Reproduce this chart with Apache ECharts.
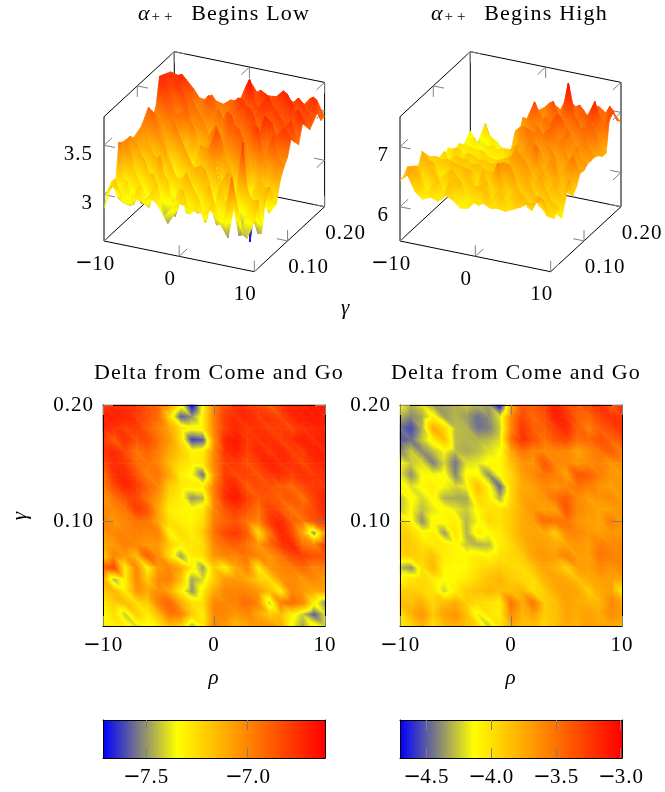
<!DOCTYPE html>
<html><head><meta charset="utf-8">
<style>html,body{margin:0;padding:0;background:#fff}#c{width:665px;height:792px}</style>
<script src="https://cdn.jsdelivr.net/npm/echarts@6/dist/echarts.min.js"></script>
</head><body><div id="c"></div>
<script>
const rhos=[-10,-9,-8,-7,-6,-5,-4,-3,-2,-1,0,1,2,3,4,5,6,7,8,9,10];
const gammas=[.20,.19,.18,.17,.16,.15,.14,.13,.12,.11,.10,.09,.08,.07,.06,.05,.04,.03,.02,.01];
const surfaceLow=[
[3.54,3.52,3.46,3.38,3.37,3.43,3.29,3.26,3.32,3.48,3.66,3.55,3.54,3.54,3.55,3.53,3.53,3.50,3.59,3.59,3.44],
[3.62,3.60,3.58,3.50,3.40,3.34,3.42,3.40,3.46,3.34,3.62,3.50,3.62,3.52,3.58,3.66,3.52,3.62,3.55,3.66,3.44],
[3.64,3.62,3.66,3.54,3.34,3.44,3.50,3.30,3.38,3.50,3.44,3.75,3.48,3.64,3.50,3.58,3.68,3.50,3.62,3.50,3.55],
[3.66,3.58,3.64,3.50,3.46,3.30,3.54,3.42,3.20,3.42,3.58,3.44,3.60,3.46,3.66,3.50,3.58,3.66,3.48,3.60,3.50],
[3.68,3.60,3.46,3.58,3.42,3.42,3.30,3.36,3.46,3.30,3.44,3.62,3.42,3.56,3.64,3.60,3.42,3.58,3.60,3.50,3.45],
[3.40,3.56,3.50,3.34,3.50,3.32,3.40,3.18,3.32,3.42,3.30,3.48,3.60,3.44,3.56,3.42,3.62,3.48,3.42,3.66,3.55],
[3.32,3.34,3.50,3.40,3.44,3.42,3.22,3.36,3.14,3.24,3.54,3.36,3.46,3.62,3.38,3.56,3.42,3.60,3.50,3.40,3.58],
[3.47,3.40,3.28,3.42,3.30,3.12,3.36,3.10,3.30,3.14,3.34,3.56,3.30,3.46,3.60,3.34,3.58,3.42,3.54,3.62,3.40],
[3.40,3.48,3.34,3.22,3.40,3.22,3.06,3.03,3.20,3.40,3.24,3.44,3.50,3.30,3.50,3.42,3.66,3.60,3.36,3.50,3.46],
[3.34,3.30,3.40,3.24,3.08,3.34,3.16,3.04,3.28,3.14,3.50,3.26,3.40,3.52,3.26,3.58,3.50,3.30,3.52,3.62,3.54],
[3.32,3.28,3.10,3.30,3.18,3.00,3.30,3.10,2.98,3.30,3.10,3.46,3.20,3.38,3.48,3.24,3.62,3.32,3.56,3.30,3.38],
[3.30,3.10,3.26,3.00,3.30,3.08,2.96,3.26,3.04,2.94,3.34,3.54,3.30,3.12,3.42,3.26,3.10,3.44,3.22,3.44,3.31],
[3.35,3.28,2.98,3.22,2.90,3.20,3.00,2.84,3.22,3.04,2.92,3.30,3.00,3.26,2.96,3.30,2.53,3.16,2.94,3.20,3.21],
[3.35,3.06,3.22,2.88,3.22,2.94,3.18,3.02,2.82,3.20,3.24,2.90,3.26,2.94,3.22,2.86,2.88,3.10,3.20,2.90,3.01],
[3.36,3.29,2.86,3.20,2.92,3.29,2.84,3.10,3.12,2.88,3.10,3.24,2.88,3.14,3.26,2.96,3.60,2.86,3.10,3.18,3.12],
[3.39,2.94,3.14,2.82,3.14,2.94,3.16,2.84,3.06,3.22,2.86,3.10,3.18,2.86,3.06,3.20,2.84,3.20,2.88,3.06,3.25],
[2.95,3.06,2.86,3.10,2.86,3.18,2.92,3.14,2.80,3.06,3.18,2.88,3.12,2.92,3.20,2.86,3.10,2.82,3.14,2.80,3.15],
[3.06,2.90,3.10,2.88,3.08,2.88,3.14,2.86,2.92,3.12,2.90,3.14,2.94,3.22,2.84,3.08,3.16,2.78,3.00,3.16,2.85],
[3.01,3.14,2.92,2.90,3.10,2.94,3.10,2.96,2.80,2.92,3.16,2.94,3.12,2.88,3.14,2.90,2.78,3.20,2.84,2.90,3.22],
[2.86,3.10,3.07,2.98,3.02,3.01,3.07,3.02,2.90,3.00,3.06,3.05,3.03,3.01,3.07,3.00,3.01,3.44,2.98,2.85,3.05]];
const surfaceHigh=[
[6.18,6.01,6.36,5.99,6.01,5.99,6.05,6.29,6.62,6.75,6.84,6.92,6.84,7.05,6.94,6.88,6.82,7.03,6.94,6.96,6.84],
[6.10,6.00,6.10,6.24,6.16,5.98,5.96,6.34,6.62,6.78,6.60,6.98,6.70,7.05,6.80,7.05,6.75,7.02,6.82,7.13,6.92],
[6.03,6.20,6.10,5.94,6.26,6.12,6.00,6.20,6.72,6.60,6.88,6.72,7.09,6.80,7.45,6.85,7.05,6.80,7.05,6.85,7.13],
[6.03,6.00,6.26,6.16,5.94,6.02,6.22,6.14,6.42,6.78,7.09,6.82,6.72,6.98,6.82,7.05,6.80,7.02,7.30,6.80,7.15],
[6.01,6.14,6.04,5.98,6.24,6.30,6.00,6.08,6.62,6.50,6.88,6.65,6.95,6.75,7.00,6.78,7.02,6.82,7.02,6.75,6.55],
[6.05,6.28,6.26,6.00,6.06,6.20,6.30,6.34,6.36,6.75,6.60,6.85,6.70,6.92,7.09,6.95,6.75,6.92,6.98,6.95,6.55],
[6.24,6.04,6.10,6.32,6.30,6.02,6.12,6.08,6.36,6.48,6.85,6.62,6.90,6.68,6.98,6.65,6.92,6.70,6.90,6.65,6.62],
[6.15,6.30,6.34,6.06,6.12,6.38,6.28,6.06,6.18,6.52,6.62,6.90,6.84,6.85,6.98,6.78,6.90,6.74,6.75,6.80,6.66],
[6.15,6.18,6.40,6.30,6.10,6.08,6.36,6.34,6.12,6.14,6.65,6.62,6.85,6.58,6.82,6.60,6.80,6.60,6.82,6.55,6.66],
[6.20,6.38,6.10,6.16,6.42,6.40,6.10,6.14,6.40,6.46,6.55,6.55,6.78,6.82,6.58,6.78,6.55,6.78,6.55,6.72,6.66],
[6.26,6.12,6.28,6.44,6.14,6.20,6.42,6.44,6.12,6.16,6.52,6.72,6.50,6.70,6.80,6.52,6.76,6.50,6.70,6.50,6.60],
[6.38,6.40,6.14,6.18,6.46,6.44,6.14,6.22,6.46,6.48,6.30,6.66,6.72,6.48,6.92,6.50,6.72,6.50,6.66,6.88,6.62],
[6.48,6.20,6.44,6.46,6.16,6.18,6.46,6.48,6.16,6.20,6.60,6.40,6.62,6.72,6.45,6.68,6.48,6.78,6.46,6.64,6.45],
[6.58,6.44,6.18,6.20,6.50,6.48,6.20,6.20,6.50,6.46,6.22,6.67,6.42,6.58,6.68,6.46,6.65,6.42,6.60,6.40,6.35],
[6.40,6.52,6.50,6.24,6.20,6.22,6.52,6.50,6.22,6.24,6.55,6.70,6.72,6.42,6.60,6.40,6.62,6.38,6.58,6.36,6.67],
[6.45,6.28,6.50,6.22,6.42,6.52,6.24,6.52,6.22,6.57,6.28,6.78,6.32,6.67,6.34,6.60,6.30,6.58,6.28,6.50,6.40],
[6.50,6.50,6.22,6.50,6.20,6.42,6.50,6.24,6.46,6.22,6.50,6.28,6.56,6.30,6.55,6.32,6.54,6.28,6.52,6.22,6.15],
[6.55,6.58,6.30,6.22,6.48,6.22,6.46,6.50,6.24,6.44,6.50,6.26,6.48,6.28,6.46,6.50,6.28,6.50,6.30,6.48,6.40],
[6.45,6.62,6.52,6.22,6.42,6.20,6.48,6.26,6.20,6.26,6.22,6.50,6.28,6.48,6.26,6.48,6.52,6.32,6.58,6.28,6.26],
[6.44,6.55,6.30,6.20,6.26,6.22,6.34,6.29,6.18,6.20,6.34,6.34,6.28,6.30,6.28,6.34,6.40,6.49,6.52,6.59,6.34]];
const deltaLow=[
[-6.78,-6.75,-6.75,-6.78,-6.85,-6.92,-7.05,-7.3,-7.71,-7.32,-7.0,-6.85,-6.75,-6.78,-6.82,-6.9,-6.78,-6.72,-6.72,-6.7,-6.68],
[-6.72,-6.7,-6.72,-6.78,-6.85,-6.92,-7.25,-7.58,-7.5,-7.3,-6.98,-6.78,-6.75,-6.72,-6.78,-6.76,-6.82,-6.72,-6.7,-6.68,-6.7],
[-6.72,-6.75,-6.8,-6.78,-6.88,-6.98,-7.1,-7.25,-7.33,-7.3,-7.0,-6.8,-6.72,-6.78,-6.75,-6.8,-6.78,-6.82,-6.75,-6.72,-6.72],
[-6.8,-6.88,-6.75,-6.85,-6.82,-6.95,-7.05,-7.25,-7.62,-7.58,-7.05,-6.72,-6.68,-6.78,-6.76,-6.74,-6.8,-6.75,-6.7,-6.75,-6.7],
[-6.78,-6.72,-6.82,-6.95,-6.9,-6.98,-7.1,-7.2,-7.32,-7.3,-7.0,-6.75,-6.7,-6.8,-6.72,-6.78,-6.72,-6.8,-6.78,-6.7,-6.72],
[-6.85,-6.75,-6.78,-6.92,-6.95,-7.0,-7.15,-7.25,-7.3,-7.28,-7.0,-6.8,-6.78,-6.85,-6.78,-6.7,-6.75,-6.75,-6.82,-6.74,-6.72],
[-6.95,-6.75,-6.72,-6.85,-6.98,-6.95,-7.1,-7.3,-7.35,-7.55,-7.05,-6.78,-6.82,-6.8,-6.85,-6.78,-6.74,-6.8,-6.75,-6.78,-6.74],
[-6.98,-6.82,-6.72,-6.78,-6.9,-7.0,-7.2,-7.28,-7.3,-7.3,-6.98,-6.76,-6.72,-6.88,-6.82,-6.85,-6.88,-6.92,-6.82,-6.78,-6.78],
[-7.05,-6.95,-6.85,-6.82,-6.95,-7.05,-7.25,-7.3,-7.5,-7.45,-7.0,-6.75,-6.68,-6.8,-6.88,-6.85,-6.9,-6.85,-6.95,-6.8,-6.72],
[-7.0,-7.0,-6.95,-6.78,-6.85,-7.1,-7.3,-7.32,-7.33,-7.28,-7.0,-6.85,-6.78,-6.85,-6.95,-6.8,-6.85,-6.95,-6.88,-6.82,-6.72],
[-6.98,-7.05,-7.0,-6.95,-6.95,-7.1,-7.25,-7.3,-7.32,-7.25,-6.98,-6.9,-6.85,-6.95,-7.0,-6.78,-6.72,-6.88,-6.95,-6.85,-6.78],
[-7.05,-7.0,-7.0,-6.98,-7.0,-7.0,-7.32,-7.25,-7.3,-7.2,-6.95,-6.82,-6.78,-6.88,-7.25,-6.95,-6.72,-6.82,-7.1,-7.5,-7.05],
[-7.1,-7.05,-6.98,-7.0,-7.05,-7.05,-7.2,-7.3,-7.28,-7.25,-7.0,-6.92,-6.88,-6.95,-7.05,-6.92,-6.78,-6.72,-6.95,-7.0,-6.8],
[-7.2,-7.0,-7.05,-7.15,-6.88,-7.02,-7.25,-7.48,-7.3,-7.25,-7.05,-7.0,-7.0,-6.95,-7.0,-7.05,-6.95,-6.82,-6.8,-6.85,-6.85],
[-6.88,-6.82,-7.3,-7.0,-7.3,-7.05,-7.0,-7.1,-7.3,-7.48,-7.2,-7.3,-7.1,-7.0,-7.28,-7.05,-7.0,-6.98,-6.92,-7.0,-6.98],
[-7.1,-7.45,-7.3,-7.0,-7.2,-7.0,-6.98,-7.15,-7.48,-7.4,-7.2,-7.05,-7.05,-7.1,-7.2,-7.25,-7.05,-7.0,-7.05,-7.0,-7.05],
[-7.2,-7.15,-7.3,-7.05,-7.1,-7.02,-7.1,-7.3,-7.5,-7.3,-7.1,-7.0,-7.0,-7.0,-7.05,-7.15,-7.3,-7.0,-7.05,-7.1,-7.1],
[-7.3,-7.2,-7.15,-7.25,-7.2,-6.98,-6.9,-7.1,-7.25,-7.25,-7.0,-7.0,-6.98,-6.92,-7.0,-7.42,-6.98,-6.92,-7.0,-7.3,-7.5],
[-7.35,-7.25,-7.42,-7.2,-7.3,-7.15,-6.95,-6.98,-7.2,-7.3,-7.0,-7.0,-7.05,-7.0,-7.1,-7.2,-7.15,-7.3,-7.42,-7.58,-7.4],
[-7.3,-7.3,-7.3,-7.4,-7.35,-7.3,-7.15,-7.2,-7.45,-7.3,-7.0,-7.05,-7.15,-7.1,-7.05,-7.05,-7.1,-7.35,-7.48,-7.3,-7.4]];
const deltaHigh=[
[-4.13,-4.3,-4.2,-4.35,-4.35,-4.3,-4.25,-4.3,-4.35,-4.68,-3.75,-3.35,-3.4,-3.3,-3.12,-3.3,-3.4,-3.3,-3.18,-3.4,-3.15],
[-4.3,-4.4,-4.32,-4.08,-4.35,-4.3,-4.35,-4.45,-4.38,-4.2,-3.6,-3.3,-3.45,-3.35,-3.1,-3.2,-3.4,-3.45,-3.3,-3.2,-3.25],
[-4.45,-4.55,-4.3,-3.75,-3.95,-4.28,-4.3,-4.45,-4.42,-4.25,-3.6,-3.22,-3.4,-3.42,-3.25,-3.15,-3.4,-3.55,-3.4,-3.3,-3.2],
[-4.5,-4.45,-4.25,-4.05,-3.85,-4.28,-4.3,-4.3,-4.28,-4.2,-3.5,-3.2,-3.35,-3.5,-3.35,-3.3,-3.5,-3.45,-3.35,-3.45,-3.35],
[-4.4,-4.25,-4.4,-4.28,-4.15,-4.28,-4.32,-4.28,-4.2,-4.13,-3.75,-3.5,-3.6,-3.6,-3.6,-3.6,-3.72,-3.6,-3.5,-3.4,-3.55],
[-4.13,-4.25,-4.2,-4.42,-4.22,-4.45,-4.2,-4.18,-4.1,-4.1,-3.85,-3.65,-3.65,-3.35,-3.6,-3.6,-3.65,-3.6,-3.55,-3.65,-3.6],
[-4.18,-4.38,-4.13,-4.15,-4.1,-4.4,-4.1,-4.1,-4.38,-4.1,-3.95,-3.7,-3.6,-3.5,-3.55,-3.7,-3.35,-3.4,-3.55,-3.65,-3.7],
[-4.05,-4.2,-4.1,-4.05,-4.15,-4.22,-4.15,-3.85,-4.1,-4.48,-3.95,-3.75,-3.7,-3.6,-3.65,-3.6,-3.5,-3.55,-3.65,-3.7,-3.65],
[-4.28,-4.1,-4.22,-4.1,-4.3,-4.32,-4.32,-3.95,-4.05,-4.3,-3.95,-3.72,-3.7,-3.65,-3.5,-3.4,-3.6,-3.7,-3.65,-3.6,-3.7],
[-4.25,-4.13,-4.28,-4.18,-4.1,-4.18,-4.25,-4.1,-4.0,-4.0,-3.9,-3.75,-3.65,-3.7,-3.7,-3.35,-3.6,-3.65,-3.72,-3.7,-3.65],
[-3.95,-4.1,-4.38,-4.1,-4.1,-4.05,-4.3,-4.15,-3.95,-4.0,-3.9,-3.75,-3.7,-3.45,-3.5,-3.5,-3.65,-3.7,-3.72,-3.55,-3.65],
[-3.9,-3.95,-4.1,-4.05,-4.35,-4.0,-4.3,-4.05,-4.12,-4.05,-3.9,-3.75,-3.72,-3.75,-3.9,-3.6,-3.6,-3.65,-3.7,-3.65,-3.7],
[-3.9,-3.9,-4.0,-4.05,-4.05,-4.1,-4.25,-4.3,-4.28,-4.05,-3.95,-3.8,-3.7,-3.7,-3.75,-3.72,-3.65,-3.7,-3.55,-3.6,-3.6],
[-3.95,-3.9,-3.95,-3.85,-4.05,-4.1,-4.1,-4.05,-4.1,-4.0,-3.95,-3.9,-3.72,-3.65,-3.7,-3.55,-3.7,-3.7,-3.5,-3.55,-3.6],
[-4.28,-4.38,-4.0,-3.8,-4.1,-4.12,-4.1,-4.0,-3.95,-3.9,-3.95,-3.98,-3.85,-3.72,-3.78,-3.92,-3.7,-3.7,-3.6,-3.65,-3.6],
[-4.1,-4.0,-3.95,-4.05,-4.13,-4.1,-4.05,-3.95,-3.85,-3.8,-3.9,-3.95,-3.98,-3.8,-3.72,-3.75,-3.85,-3.75,-3.7,-3.7,-3.72],
[-3.9,-3.9,-3.95,-4.0,-4.22,-4.05,-3.9,-3.85,-3.8,-3.85,-3.85,-3.8,-3.98,-3.9,-3.75,-3.7,-3.72,-3.9,-3.75,-3.7,-4.05],
[-3.85,-3.85,-3.78,-3.95,-3.82,-3.75,-3.9,-3.95,-4.0,-4.05,-3.5,-3.75,-3.5,-3.9,-3.85,-3.7,-3.75,-3.8,-3.8,-3.6,-3.7],
[-4.0,-3.78,-3.65,-3.9,-3.7,-3.65,-3.85,-4.18,-4.0,-4.05,-3.6,-3.8,-3.7,-3.9,-3.85,-3.72,-3.75,-3.7,-3.75,-3.6,-3.7],
[-4.05,-3.95,-3.78,-4.0,-3.82,-3.78,-3.85,-3.95,-4.25,-4.0,-3.75,-3.85,-3.85,-3.95,-3.85,-3.75,-3.8,-3.7,-3.75,-3.75,-3.8]];

const rhoTicks=[-10,0,10];
const gammaTicks=[.10,.20];
const zTicksLow=[3,3.5];
const zTicksHigh=[6,7];
const zRangeLow=[2.53,3.79];
const zRangeHigh=[5.43,7.50];
const deltaRangeLow=[-7.71,-6.62];
const deltaRangeHigh=[-4.70,-2.99];
const barTicksLow=[-7.5,-7.0];
const barTicksHigh=[-4.5,-4.0,-3.5,-3.0];
const titles=['Begins Low','Begins High','Delta from Come and Go'];

/* Computer Modern sets wider than the installed serif: widen the tracking per font size */
const plainFillText=CanvasRenderingContext2D.prototype.fillText;
CanvasRenderingContext2D.prototype.fillText=function(){
  const f=this.font;
  this.letterSpacing=/\b22px/.test(f)?'1.2px':/\b15px/.test(f)?'4px':/\b21px/.test(f)?'1px':'0px';
  return plainFillText.apply(this,arguments);
};

const FONT='"Liberation Serif","DejaVu Serif",serif';
const LABEL=21, TICK='#808080', INK='#000';
const minusRich={m:{fontFamily:'"DejaVu Sans"',fontSize:LABEL,color:INK}};
const fmtMinus=(s)=>String(s).replace('-','{m|\u2212}');
const lin=echarts.number.linearMap;

function mix(a,b,f){return a.map((v,i)=>Math.round(v+(b[i]-v)*f));}
function col(t){
  t=Math.max(0,Math.min(1,t));
  const c=t<1/3?mix([0,0,255],[255,255,0],t*3):mix([255,255,0],[255,0,0],(t-1/3)*1.5);
  return 'rgb('+c.join(',')+')';
}
function shade(a,b,c){
  const det=(b[0]-a[0])*(c[1]-a[1])-(c[0]-a[0])*(b[1]-a[1]);
  const vs=[a,b,c].slice().sort((p,q)=>p[2]-q[2]);
  const lo=vs[0][2],hi=vs[2][2];
  if(Math.abs(det)<1e-6||hi-lo<1e-4)return col((a[2]+b[2]+c[2])/3);
  const gx=((b[2]-a[2])*(c[1]-a[1])-(c[2]-a[2])*(b[1]-a[1]))/det;
  const gy=((c[2]-a[2])*(b[0]-a[0])-(b[2]-a[2])*(c[0]-a[0]))/det;
  const n=gx*gx+gy*gy,d=hi-lo;
  const x1=vs[0][0]+gx*d/n,y1=vs[0][1]+gy*d/n;
  const stops=[{offset:0,color:col(lo)}];
  if(lo<1/3&&hi>1/3)stops.push({offset:(1/3-lo)/d,color:col(1/3)});
  stops.push({offset:1,color:col(hi)});
  return new echarts.graphic.LinearGradient(vs[0][0],vs[0][1],x1,y1,stops,true);
}
function tri(a,b,c){
  const f=shade(a,b,c);
  return {type:'polygon',shape:{points:[[a[0],a[1]],[b[0],b[1]],[c[0],c[1]]]},style:{fill:f,stroke:f,lineWidth:.7}};
}
function cells(m){
  const out=[];
  m.forEach((row,j)=>row.forEach((v,i)=>out.push([rhos[i],gammas[j],v,i,j])));
  return out;
}

const panels3D=[
 {ax:104,ay:241,bx:254.3,by:271.7,dx:70.3,dy:-65,h:124.3,z:zRangeLow,m:surfaceLow,zt:zTicksLow},
 {ax:400,ay:241,bx:550.7,by:271.7,dx:70.3,dy:-65,h:124.3,z:zRangeHigh,m:surfaceHigh,zt:zTicksHigh}
];
const heat=[{l:103,m:deltaLow,r:deltaRangeLow},{l:400,m:deltaHigh,r:deltaRangeHigh}];
const bars=[{l:103,r:deltaRangeLow,t:barTicksLow},{l:400,r:deltaRangeHigh,t:barTicksHigh}];

const grid=[],xAxis=[],yAxis=[],series=[];
function addGrid(g){grid.push(Object.assign({containLabel:false},g));return grid.length-1;}
function hiddenAxis(o){return Object.assign({type:'value',show:false,scale:true},o);}

panels3D.forEach((p)=>{
  const g=addGrid({left:p.ax,top:p.ay-p.h,width:p.bx-p.ax,height:p.h});
  const xi=xAxis.push(hiddenAxis({gridIndex:g,min:-10,max:10}))-1;
  const yi=yAxis.push(hiddenAxis({gridIndex:g,min:p.z[0],max:p.z[1]}))-1;
  const proj=(api,r,ga,z)=>{
    const c=api.coord([r,z]);
    const v=lin(ga,[.01,.20],[0,1]), u=lin(r,[-10,10],[0,1]);
    return [c[0]+v*p.dx, c[1]+u*(p.by-p.ay)+v*p.dy];
  };
  const [z0,z1]=p.z;
  const seg=(a,b,st)=>({type:'line',shape:{x1:a[0],y1:a[1],x2:b[0],y2:b[1]},style:st});
  const boxStyle={stroke:'#000',lineWidth:1,fill:null}, tickStyle={stroke:TICK,lineWidth:1,fill:null};
  const txt=(s,x,y,align)=>({type:'text',style:{text:s,x:x,y:y,align:align,verticalAlign:'middle',fill:INK,font:LABEL+'px '+FONT,rich:minusRich}});
  series.push({type:'custom',coordinateSystem:'cartesian2d',xAxisIndex:xi,yAxisIndex:yi,silent:true,animation:false,z:2,
    data:[[0]],encode:{x:0},
    renderItem:(ps,api)=>{
      const e=[];
      const P=(r,ga,z)=>proj(api,r,ga,z);
      const L=(a,b)=>e.push(seg(a,b,boxStyle));
      L(P(-10,.01,z0),P(10,.01,z0));L(P(10,.01,z0),P(10,.20,z0));
      L(P(-10,.01,z0),P(-10,.20,z0));L(P(-10,.20,z0),P(10,.20,z0));
      L(P(-10,.01,z0),P(-10,.01,z1));L(P(-10,.20,z0),P(-10,.20,z1));L(P(10,.20,z0),P(10,.20,z1));
      L(P(-10,.01,z1),P(-10,.20,z1));L(P(-10,.20,z1),P(10,.20,z1));
      const tk=(a,b)=>{const d=Math.hypot(b[0]-a[0],b[1]-a[1]);e.push(seg(a,[a[0]+(b[0]-a[0])/d*11,a[1]+(b[1]-a[1])/d*11],tickStyle));};
      rhoTicks.forEach(r=>{
        const a=P(r,.01,z0);tk(a,P(r,.20,z0));tk(a,P(r,.01,z1));
        const b=P(r,.20,z1);tk(b,P(r,.01,z1));tk(b,P(r,.20,z0));
      });
      gammaTicks.forEach(ga=>{
        const a=P(10,ga,z0);tk(a,P(-10,ga,z0));tk(a,P(10,ga,z1));
        const b=P(-10,ga,z1);tk(b,P(10,ga,z1));tk(b,P(-10,ga,z0));
      });
      p.zt.forEach(z=>{
        const a=P(-10,.01,z);tk(a,P(10,.01,z));tk(a,P(-10,.20,z));
        const b=P(10,.20,z);tk(b,P(-10,.20,z));tk(b,P(10,.01,z));
      });
      rhoTicks.forEach(r=>{const a=P(r,.01,z0);e.push(txt(fmtMinus(r),a[0]-9,a[1]+23,'center'));});
      gammaTicks.forEach(ga=>{const a=P(10,ga,z0);e.push(txt(ga.toFixed(2),a[0]+21,a[1]+27,'center'));});
      p.zt.forEach(z=>{const a=P(-10,.01,z);e.push(txt(String(z),a[0]-11,a[1]+9,'right'));});
      return {type:'group',children:e};
    }});
  const span=z1-z0;
  series.push({type:'custom',coordinateSystem:'cartesian2d',xAxisIndex:xi,yAxisIndex:yi,silent:true,animation:false,z:3,progressive:0,
    data:cells(p.m),dimensions:['rho','gamma','value','i','j'],encode:{x:0,y:2},
    renderItem:(ps,api)=>{
      const i=api.value(3),j=api.value(4);
      if(i>=20||j>=19)return null;
      const n=(a,b)=>{const q=proj(api,rhos[a],gammas[b],p.m[b][a]);return [q[0],q[1],(p.m[b][a]-z0)/span];};
      const A=n(i,j),B=n(i+1,j),C=n(i,j+1),D=n(i+1,j+1);
      return {type:'group',children:[tri(A,C,D),tri(A,B,D)]};
    }});
});

heat.forEach((h,k)=>{
  const g=addGrid({left:h.l,top:405,width:222,height:221});
  const axisLine={show:true,onZero:false,lineStyle:{color:'#000',width:1}};
  const axisTick={show:true,inside:true,length:10,lineStyle:{color:TICK,width:1}};
  const xi=xAxis.push({type:'value',gridIndex:g,position:'bottom',min:-10,max:10,interval:10,z:10,splitLine:{show:false},axisLine,axisTick,
    axisLabel:{show:true,margin:9,fontFamily:FONT,fontSize:LABEL,color:INK,showMinLabel:true,showMaxLabel:true,formatter:fmtMinus,rich:minusRich},
    name:'\u03c1',nameLocation:'middle',nameGap:42,nameTextStyle:{fontFamily:FONT,fontStyle:'italic',fontSize:LABEL,color:INK}})-1;
  xAxis.push({type:'value',gridIndex:g,position:'top',min:-10,max:10,interval:10,z:10,splitLine:{show:false},axisLine,axisTick,axisLabel:{show:false}});
  const yi=yAxis.push({type:'value',gridIndex:g,position:'left',min:.01,max:.20,z:10,splitLine:{show:false},axisLine,
    axisTick:Object.assign({customValues:gammaTicks},axisTick),
    axisLabel:{show:true,margin:9,customValues:gammaTicks,fontFamily:FONT,fontSize:LABEL,color:INK,formatter:v=>v.toFixed(2)},
    name:k===0?'\u03b3':'',nameLocation:'middle',nameGap:72,nameRotate:90,nameTextStyle:{fontFamily:FONT,fontStyle:'italic',fontSize:LABEL,color:INK}})-1;
  yAxis.push({type:'value',gridIndex:g,position:'right',min:.01,max:.20,z:10,splitLine:{show:false},axisLine,
    axisTick:Object.assign({customValues:gammaTicks},axisTick),axisLabel:{show:false}});
  const [lo,hi]=h.r;
  series.push({type:'custom',coordinateSystem:'cartesian2d',xAxisIndex:xi,yAxisIndex:yi,silent:true,animation:false,z:3,progressive:0,
    data:cells(h.m),dimensions:['rho','gamma','value','i','j'],encode:{x:0,y:1},
    renderItem:(ps,api)=>{
      const i=api.value(3),j=api.value(4);
      if(i>=20||j>=19)return null;
      const n=(a,b)=>{const q=api.coord([rhos[a],gammas[b]]);return [q[0],q[1],(h.m[b][a]-lo)/(hi-lo)];};
      const A=n(i,j),B=n(i+1,j),C=n(i,j+1),D=n(i+1,j+1);
      return {type:'group',children:[tri(A,C,D),tri(A,B,D)]};
    }});
});

bars.forEach((b)=>{
  const g=addGrid({left:b.l,top:720,width:222,height:38});
  const axisLine={show:true,onZero:false,lineStyle:{color:'#000',width:1}};
  const axisTick={show:true,inside:true,length:10,customValues:b.t,lineStyle:{color:TICK,width:1}};
  const xi=xAxis.push({type:'value',gridIndex:g,position:'bottom',min:b.r[0],max:b.r[1],z:10,splitLine:{show:false},axisLine,axisTick,
    axisLabel:{show:true,margin:9,customValues:b.t,fontFamily:FONT,fontSize:LABEL,color:INK,formatter:v=>fmtMinus(v.toFixed(1)),rich:minusRich}})-1;
  xAxis.push({type:'value',gridIndex:g,position:'top',min:b.r[0],max:b.r[1],z:10,splitLine:{show:false},axisLine,axisTick,axisLabel:{show:false}});
  const yi=yAxis.push({type:'value',gridIndex:g,min:0,max:1,z:10,position:'left',splitLine:{show:false},axisLine,axisTick:{show:false},axisLabel:{show:false}})-1;
  yAxis.push({type:'value',gridIndex:g,min:0,max:1,z:10,position:'right',splitLine:{show:false},axisLine,axisTick:{show:false},axisLabel:{show:false}});
  series.push({type:'custom',coordinateSystem:'cartesian2d',xAxisIndex:xi,yAxisIndex:yi,silent:true,animation:false,z:3,
    data:[[b.r[0],b.r[1]]],encode:{x:[0,1]},
    renderItem:(ps,api)=>{
      const a=api.coord([api.value(0),1]),c=api.coord([api.value(1),0]);
      const f=new echarts.graphic.LinearGradient(a[0],0,c[0],0,[{offset:0,color:col(0)},{offset:1/3,color:col(1/3)},{offset:1,color:col(1)}],true);
      return {type:'rect',shape:{x:a[0],y:a[1],width:c[0]-a[0],height:c[1]-a[1]},style:{fill:f}};
    }});
});

const TS=22;
const richA={a:{fontFamily:FONT,fontStyle:'italic',fontSize:TS,color:INK,padding:[0,2,0,0]},
  s:{fontFamily:FONT,fontSize:15,color:INK,verticalAlign:'bottom',padding:[5,16,0,0]},
  t:{fontFamily:FONT,fontSize:TS,color:INK}};
const mkTitle=(text,x,y,align)=>({text:text,left:x,top:y,textAlign:align,textStyle:{fontFamily:FONT,fontSize:TS,fontWeight:'normal',color:INK,rich:richA}});
const title=[
  mkTitle('{a|\u03b1}{s|++}{t| '+titles[0]+'}',133,-2,'left'),
  mkTitle('{a|\u03b1}{s|++}{t| '+titles[1]+'}',426,-2,'left'),
  mkTitle(titles[2],214,357,'center'),
  mkTitle(titles[2],511,357,'center')
];
const graphic=[{type:'text',left:341,top:298,style:{text:'\u03b3',font:'italic '+LABEL+'px '+FONT,fill:INK}}];

const chart=echarts.init(document.getElementById('c'),null,{renderer:'canvas',width:665,height:792});
chart.setOption({animation:false,backgroundColor:'#fff',title,grid,xAxis,yAxis,series,graphic,tooltip:{show:false}});
</script></body></html>
